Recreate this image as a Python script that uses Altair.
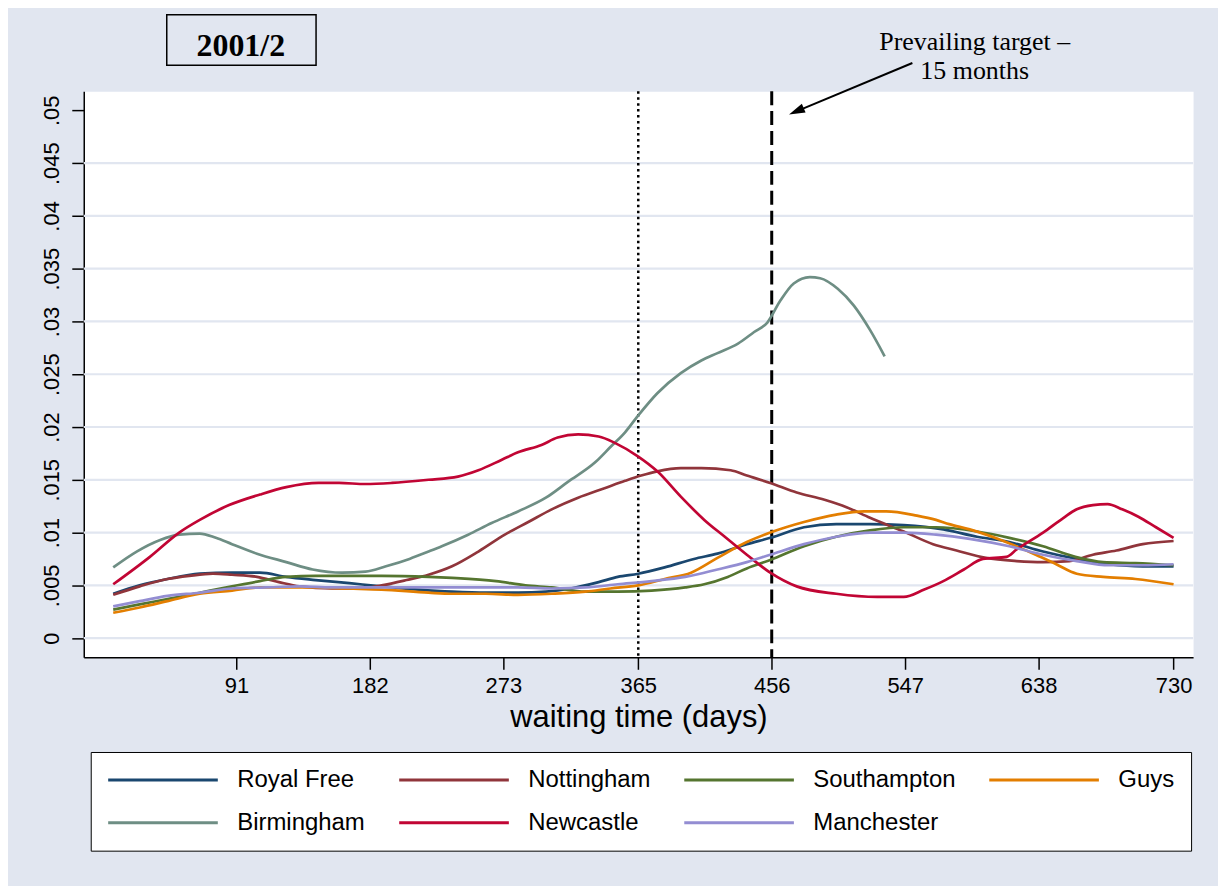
import altair as alt
import pandas as pd

# ---------------- data ----------------
series_names = ["Royal Free", "Nottingham", "Southampton", "Guys",
                "Birmingham", "Newcastle", "Manchester"]
series_colors = ["#1a476f", "#90353b", "#55752f", "#e37e00",
                 "#6e8e84", "#c10534", "#938dd2"]

royal_free_days = [7, 25, 44, 66, 88, 107, 125, 145, 168, 190, 215, 238, 261, 283, 302, 319, 338, 351,
                   365, 383, 403, 419, 439, 455, 478, 500, 523, 546, 573, 596, 618, 641, 664, 686, 709, 730]
royal_free_vals = [.0042, .0050, .0056, .0061, .0062, .0062, .0058, .0055, .0052, .0049, .0046, .0044,
                   .0043, .0043, .0044, .0047, .0053, .0058, .0061, .0067, .0075, .0080, .0089, .0095,
                   .0105, .0108, .0108, .0107, .0103, .0096, .0091, .0082, .0075, .0070, .0068, .0068]

nottingham_days = [7, 25, 44, 59, 75, 88, 105, 120, 134, 156, 175, 190, 207, 222, 238, 256, 274, 290,
                   306, 324, 342, 356, 367, 378, 394, 408, 428, 439, 455, 473, 492, 507, 523, 546, 566,
                   582, 602, 623, 641, 659, 675, 691, 709, 730]
nottingham_vals = [.0041, .0049, .0056, .0059, .0061, .0060, .0058, .0053, .0049, .0047, .0047, .0050,
                   .0055, .0060, .0068, .0082, .0098, .0110, .0122, .0133, .0142, .0149, .0154, .0158,
                   .0161, .0161, .0159, .0154, .0147, .0138, .0131, .0124, .0114, .0101, .0089, .0083,
                   .0076, .0073, .0072, .0073, .0079, .0083, .0089, .0092]

southampton_days = [7, 25, 44, 66, 88, 107, 125, 145, 168, 190, 222, 238, 268, 288, 306, 329, 351, 374,
                    397, 410, 426, 439, 455, 478, 500, 523, 546, 568, 596, 618, 641, 663, 682, 704, 730]
southampton_vals = [.0027, .0032, .0037, .0043, .0049, .0054, .0058, .0059, .0059, .0059, .0058, .0057,
                    .0054, .0050, .0048, .0044, .0044, .0045, .0048, .0051, .0058, .0066, .0074, .0087,
                    .0096, .0102, .0105, .0105, .0101, .0095, .0087, .0077, .0072, .0071, .0069]

guys_days = [7, 25, 44, 66, 88, 107, 125, 145, 168, 190, 222, 238, 261, 283, 306, 329, 346, 365, 383,
             401, 419, 439, 455, 478, 500, 519, 534, 555, 568, 577, 591, 614, 636, 650, 664, 682, 704, 730]
guys_vals = [.0024, .0029, .0035, .0042, .0045, .0048, .0048, .0048, .0047, .0046, .0043, .0042, .0042,
             .0041, .0042, .0044, .0047, .0050, .0056, .0062, .0076, .0091, .0100, .0110, .0117, .0120,
             .0120, .0116, .0112, .0108, .0103, .0092, .0079, .0070, .0061, .0058, .0056, .0051]

birmingham_days = [7, 23, 39, 52, 66, 77, 88, 105, 125, 143, 163, 179, 193, 209, 222, 231, 249, 265,
                   283, 302, 317, 336, 346, 356, 365, 378, 394, 408, 419, 433, 444, 453, 462, 471, 482,
                   489, 501, 512, 523, 533]
birmingham_vals = [.0067, .0082, .0093, .0098, .0099, .0095, .0089, .0080, .0072, .0065, .0062, .0063,
                   .0068, .0075, .0082, .0087, .0098, .0109, .0120, .0133, .0148, .0167, .0181, .0195,
                   .0211, .0232, .0251, .0263, .0270, .0279, .0290, .0299, .0320, .0336, .0342, .0341,
                   .0331, .0315, .0292, .0267]

newcastle_days = [7, 32, 52, 66, 86, 107, 125, 147, 161, 179, 197, 222, 242, 256, 272, 283, 299, 310,
                  324, 338, 349, 365, 378, 394, 410, 424, 439, 455, 473, 500, 528, 546, 560, 573, 587,
                  600, 616, 623, 641, 655, 664, 675, 685, 695, 706, 718, 730]
newcastle_vals = [.0051, .0077, .0100, .0112, .0126, .0136, .0143, .0147, .0147, .0146, .0147, .0150,
                  .0153, .0159, .0169, .0176, .0183, .0190, .0193, .0191, .0185, .0172, .0158, .0134,
                  .0112, .0096, .0079, .0062, .0049, .0042, .0039, .0039, .0046, .0054, .0065, .0075,
                  .0077, .0084, .0100, .0114, .0122, .0126, .0127, .0122, .0115, .0105, .0095]

manchester_days = [7, 25, 44, 66, 88, 111, 134, 156, 179, 222, 261, 283, 306, 329, 351, 374, 397, 419,
                   439, 455, 478, 500, 523, 546, 568, 591, 618, 641, 664, 686, 709, 730]
manchester_vals = [.0030, .0035, .0040, .0043, .0047, .0048, .0049, .0048, .0048, .0048, .0048, .0048,
                   .0047, .0048, .0051, .0054, .0058, .0065, .0072, .0079, .0089, .0096, .0100, .0100,
                   .0098, .0094, .0087, .0079, .0073, .0069, .0069, .0070]

x_ticks = [91, 182, 273, 365, 456, 547, 638, 730]
y_ticks = [0, 0.005, 0.01, 0.015, 0.02, 0.025, 0.03, 0.035, 0.04, 0.045, 0.05]
grid_values = [0, 0.005, 0.01, 0.015, 0.02, 0.025, 0.03, 0.035, 0.04, 0.045]

dotted_line_day = [365]
target_line_day = [456]

panel_title = ["2001/2"]
title_box_x = [43.5, 145.3]
title_box_y = [0.05427, 0.05906]
title_text_pos = [94.0, 0.05512]

annotation_lines = ["Prevailing target \u2013", "15 months"]
annotation_x = [594.4, 594.4]
annotation_y = [0.05575, 0.05298]
arrow_start = [551.9, 0.05449]
arrow_head = [472.8, 0.04991]

# ---------------- build tables ----------------
series_days = [royal_free_days, nottingham_days, southampton_days, guys_days,
               birmingham_days, newcastle_days, manchester_days]
series_vals = [royal_free_vals, nottingham_vals, southampton_vals, guys_vals,
               birmingham_vals, newcastle_vals, manchester_vals]
rows = []
for i, (name, ds, vs) in enumerate(zip(series_names, series_days, series_vals)):
    for d, v in zip(ds, vs):
        rows.append({"series": name, "order": i, "day": d, "density": v})
df = pd.DataFrame(rows)

BG = "#E1E6F0"
GRID = "#E1E6F0"
SANS = "Liberation Sans"
SERIF = "Liberation Serif"

xscale = alt.Scale(domain=[-13.1, 743.3], nice=False, zero=False)
yscale = alt.Scale(domain=[-0.00182, 0.05182], nice=False, zero=False)

x_axis = alt.Axis(values=x_ticks, title="waiting time (days)", grid=False,
                  labelFontSize=22, labelFont=SANS, labelColor="black",
                  titleFontSize=31, titleFont=SANS, titleFontWeight="normal",
                  titleColor="black", tickSize=12, tickWidth=1.5, tickColor="black",
                  domainColor="black", domainWidth=1.5, labelPadding=6,
                  titlePadding=6, labelFlush=False)
y_axis = alt.Axis(values=y_ticks, title=None, grid=False, labelAngle=270,
                  labelExpr="datum.value == 0 ? '0' : replace(format(datum.value, '.3~f'), '0.', '.')",
                  labelFontSize=22, labelFont=SANS, labelColor="black",
                  tickSize=12, tickWidth=1.5, tickColor="black",
                  domainColor="black", domainWidth=1.5, labelPadding=8)


def X(field):
    return alt.X(field, scale=xscale, axis=x_axis, title="waiting time (days)")


def Y(field):
    return alt.Y(field, scale=yscale, axis=y_axis, title=None)


grid = alt.Chart(pd.DataFrame({"g": grid_values})).mark_rule(
    color=GRID, strokeWidth=2.2
).encode(y=Y("g:Q"))

lines = alt.Chart(df).mark_line(strokeWidth=2.7, interpolate="monotone").encode(
    x=X("day:Q"),
    y=Y("density:Q"),
    color=alt.Color("series:N",
                    scale=alt.Scale(domain=series_names, range=series_colors),
                    legend=alt.Legend(title=None, orient="none", legendX=7, legendY=663,
                                      direction="horizontal",
                                      columns=4, symbolType="stroke", symbolSize=12100,
                                      symbolStrokeWidth=3, labelFontSize=24, labelFont=SANS,
                                      labelColor="black", labelOffset=18, columnPadding=32,
                                      rowPadding=19, padding=16, clipHeight=24,
                                      strokeColor="black",
                                      fillColor="white", labelLimit=400)),
    order=alt.Order("order:Q"),
)

dotted = alt.Chart(pd.DataFrame({"d": dotted_line_day})).mark_rule(
    color="black", strokeWidth=2.5, strokeDash=[2.5, 3.5]
).encode(x=X("d:Q"))

dashed = alt.Chart(pd.DataFrame({"d": target_line_day})).mark_rule(
    color="black", strokeWidth=3, strokeDash=[14, 6]
).encode(x=X("d:Q"))

box = alt.Chart(pd.DataFrame({"x0": [title_box_x[0]], "x1": [title_box_x[1]],
                              "y0": [title_box_y[0]], "y1": [title_box_y[1]]})).mark_rect(
    fill="transparent", stroke="black", strokeWidth=1.5
).encode(x=X("x0:Q"), x2="x1:Q", y=Y("y0:Q"), y2="y1:Q")

box_text = alt.Chart(pd.DataFrame({"t": panel_title, "x": [title_text_pos[0]],
                                   "y": [title_text_pos[1]]})).mark_text(
    font=SERIF, fontSize=32, fontWeight="bold", color="black",
    align="center", baseline="alphabetic"
).encode(x=X("x:Q"), y=Y("y:Q"), text="t:N")

annot = alt.Chart(pd.DataFrame({"t": annotation_lines, "x": annotation_x,
                                "y": annotation_y})).mark_text(
    font=SERIF, fontSize=26, color="black", align="center", baseline="alphabetic"
).encode(x=X("x:Q"), y=Y("y:Q"), text="t:N")

arrow_line = alt.Chart(pd.DataFrame({"x0": [arrow_start[0]], "x1": [arrow_head[0]],
                                     "y0": [arrow_start[1]], "y1": [arrow_head[1]]})).mark_rule(
    color="black", strokeWidth=2
).encode(x=X("x0:Q"), x2="x1:Q", y=Y("y0:Q"), y2="y1:Q")

arrow_tip = alt.Chart(pd.DataFrame({"x": [arrow_head[0]], "y": [arrow_head[1]]})).mark_point(
    shape="M0,-1L0.6,1L-0.6,1Z", filled=True, size=256, angle=247,
    color="black", opacity=1, strokeWidth=0
).encode(x=X("x:Q"), y=Y("y:Q"))

chart = alt.layer(
    grid, dotted, dashed, lines, box, box_text, annot, arrow_line, arrow_tip
).properties(
    width=1113, height=568,
    autosize=alt.AutoSizeParams(type="none"),
    padding={"left": 76, "top": 82, "right": 25, "bottom": 228},
    background=BG,
).configure_view(
    fill="white", stroke="transparent"
)

chart.save("out.html", embed_options={"renderer": "svg", "actions": False})
